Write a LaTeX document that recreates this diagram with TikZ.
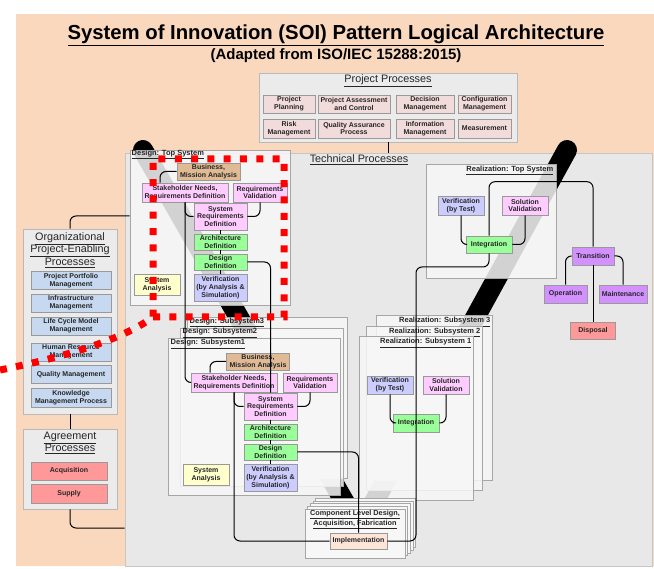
\documentclass[tikz,border=0pt]{standalone}
\usepackage{fontspec}
\setmainfont{Liberation Sans}
\usepackage{tikz}
\usetikzlibrary{positioning}

\definecolor{peach}{RGB}{250,216,190}
\definecolor{grp}{RGB}{235,235,235}
\definecolor{techbg}{RGB}{232,232,232}
\definecolor{layerbg}{RGB}{247,247,247}
\definecolor{ppink}{RGB}{242,220,219}
\definecolor{bmatan}{RGB}{223,186,148}
\definecolor{reqpink}{RGB}{255,204,255}
\definecolor{defgreen}{RGB}{153,255,153}
\definecolor{verblue}{RGB}{204,204,255}
\definecolor{sayellow}{RGB}{255,255,204}
\definecolor{trpurple}{RGB}{210,145,255}
\definecolor{dispred}{RGB}{255,153,153}
\definecolor{orgblue}{RGB}{198,217,241}
\definecolor{implpeach}{RGB}{252,228,214}

\tikzset{
    proc/.style={draw=gray!80, line width=0.6pt, inner sep=0pt, align=center, text=black!85, font=\fontsize{7}{7.8}\selectfont\bfseries},
    sz/.style 2 args={minimum width=#1pt, minimum height=#2pt},
    group/.style={draw=gray!55, line width=0.7pt, fill=grp},
    layer/.style={draw=gray!70, line width=0.6pt, fill=layerbg, fill opacity=0.85},
    boxcap/.style={font=\fontsize{7.5}{8}\selectfont\bfseries, inner sep=0.5pt, text=black!85},
    gtitle/.style={font=\fontsize{10.8}{12.5}\selectfont, align=center, text=black!85, inner sep=0pt},
    conn/.style={black, line width=1pt, rounded corners=6pt},
    vee/.style={black, line width=20pt, line cap=round},
    hilite/.style={red, line width=7pt, dash pattern=on 7pt off 9.3pt}
}

\begin{document}
\begin{tikzpicture}[x=1pt, y=-1pt]
            \useasboundingbox (0,0) rectangle (654,569);
            \fill[peach] (16,14) rectangle (654,566);

            \draw (336,39.5) node[anchor=base, font=\fontsize{20.3}{24}\selectfont\bfseries] (ttl) {\underline{System of Innovation (SOI) Pattern Logical Architecture}};
            \draw (336,60) node[anchor=base, font=\fontsize{15}{18}\selectfont\bfseries] (subttl) {(Adapted from ISO/IEC 15288:2015)};

            \draw (388,107.5) node[group, sz={258}{69}]                     (pp) {};
            \draw (388,83) node[gtitle, anchor=base]                        (ppt) {\underline{Project Processes}};
            \draw (289,104) node[proc, fill=ppink, sz={52}{18}]             (ppl) {Project\\Planning};
            \draw (354,104) node[proc, fill=ppink, sz={72}{18}]             (pac) {Project Assessment\\and Control};
            \draw (425,104) node[proc, fill=ppink, sz={58}{18}]             (dm) {Decision\\Management};
            \draw (484.5,104) node[proc, fill=ppink, sz={53}{18}]           (cm) {Configuration\\Management};
            \draw (289,128.5) node[proc, fill=ppink, sz={52}{19}]           (rm) {Risk\\Management};
            \draw (354,128.5) node[proc, fill=ppink, sz={72}{19}]           (qa) {Quality Assurance\\Process};
            \draw (425,128.5) node[proc, fill=ppink, sz={58}{19}]           (im) {Information\\Management};
            \draw (484.5,128.5) node[proc, fill=ppink, sz={53}{19}]         (ms) {Measurement};

            \draw (70,321.5) node[group, sz={94}{185}]                      (org) {};
            \draw (70,250) node[gtitle]                                     (orgt) {\underline{Organizational}\\\underline{Project-Enabling}\\\underline{Processes}};
            \draw (71,280.5) node[proc, fill=orgblue, sz={80}{18}]          (ppm) {Project Portfolio\\Management};
            \draw (71,303) node[proc, fill=orgblue, sz={80}{18}]            (inf) {Infrastructure\\Management};
            \draw (71,326) node[proc, fill=orgblue, sz={80}{18}]            (lcm) {Life Cycle Model\\Management};
            \draw (71,352) node[proc, fill=orgblue, sz={80}{18}]            (hrm) {Human Resource\\Management};
            \draw (71,374.5) node[proc, fill=orgblue, sz={80}{18}]          (qm) {Quality Management};
            \draw (71,397.5) node[proc, fill=orgblue, sz={80}{19}]          (kmp) {Knowledge\\Management Process};

            \draw (70,469) node[group, sz={94}{80}]                         (agr) {};
            \draw (70,443) node[gtitle]                                     (agrt) {\underline{Agreement}\\\underline{Processes}};
            \draw (69,471) node[proc, fill=dispred, sz={76}{18}]            (acq) {Acquisition};
            \draw (69,493.5) node[proc, fill=dispred, sz={76}{19}]          (sup) {Supply};

            \draw (388.5,359.5) node[draw=gray!45, line width=0.7pt, fill=techbg, sz={527}{413}] (tech) {};
            \draw (359,163) node[gtitle, anchor=base]                       (techt) {\underline{Technical Processes}};

            \draw[vee] (143,150) -- (352,515);
            \draw[vee] (567,150) -- (367,515);

            \draw (210,227.5) node[layer, sz={160}{155}]                    (dTop) {};
            \draw (131,154.5) node[boxcap, anchor=west]                     (dTopt) {\underline{Design: Top System}};
            \draw (491,221) node[layer, sz={130}{114}]                      (rTop) {};
            \draw (554,170.5) node[boxcap, anchor=east]                     (rTopt) {\underline{Realization: Top System}};

            \draw (267,397.5) node[layer, sz={160}{161}]                    (dS3) {};
            \draw (189,322.5) node[boxcap, anchor=west]                     (dS3t) {\underline{Design: Subsystem3}};
            \draw (261.5,407) node[layer, sz={163}{158}]                    (dS2) {};
            \draw (182,333) node[boxcap, anchor=west]                       (dS2t) {\underline{Design: Subsystem2}};
            \draw (254,416.5) node[layer, sz={172}{157}]                    (dS1) {};
            \draw (170,344) node[boxcap, anchor=west]                       (dS1t) {\underline{Design: Subsystem1}};

            \draw (434,397.5) node[layer, sz={116}{165}]                    (rS3) {};
            \draw (491,322) node[boxcap, anchor=east]                       (rS3t) {\underline{Realization: Subsystem 3}};
            \draw (424,408) node[layer, sz={116}{164}]                      (rS2) {};
            \draw (481,332.5) node[boxcap, anchor=east]                     (rS2t) {\underline{Realization: Subsystem 2}};
            \draw (416,418) node[layer, sz={114}{164}]                      (rS1) {};
            \draw (472,343) node[boxcap, anchor=east]                       (rS1t) {\underline{Realization: Subsystem 1}};

            \foreach \k in {4,3,2,1}
                \draw ({355+2.6*\k},{533.5-2.6*\k}) node[draw=gray!70, line width=0.6pt, fill=layerbg, sz={100}{49}] (comp\k) {};
            \draw (355,533.5) node[draw=gray!70, line width=0.6pt, fill=layerbg, sz={100}{49}] (comp0) {};
            \draw (355,519.5) node[proc, draw=none, fill=none, font=\fontsize{7.3}{8.6}\selectfont\bfseries] (compt) {\underline{Component Level Design,}\\\underline{Acquisition, Fabrication}};

            \draw (208.5,171.5) node[proc, fill=bmatan, sz={63}{17}]        (bmaT) {Business,\\Mission Analysis};
            \draw (185,192.5) node[proc, fill=reqpink, sz={86}{19}]         (sndT) {Stakeholder Needs,\\Requirements Definition};
            \draw (260,192.5) node[proc, fill=reqpink, sz={54}{19}]         (rvT) {Requirements\\Validation};
            \draw (220.5,216.5) node[proc, fill=reqpink, sz={53}{27}]       (srdT) {System\\Requirements\\Definition};
            \draw (220.5,242) node[proc, fill=defgreen, sz={53}{16}]        (adT) {Architecture\\Definition};
            \draw (220.5,262) node[proc, fill=defgreen, sz={53}{16}]        (ddT) {Design\\Definition};
            \draw (220.5,287.5) node[proc, fill=verblue, sz={53}{27}]       (verT) {Verification\\(by Analysis \&\\Simulation)};
            \draw (157,284.5) node[proc, fill=sayellow, sz={46}{21}]        (saT) {System\\Analysis};

            \draw (258,361.5) node[proc, fill=bmatan, sz={63}{17}]          (bma1) {Business,\\Mission Analysis};
            \draw (234,382.5) node[proc, fill=reqpink, sz={86}{19}]         (snd1) {Stakeholder Needs,\\Requirements Definition};
            \draw (310,382.5) node[proc, fill=reqpink, sz={54}{19}]         (rv1) {Requirements\\Validation};
            \draw (270.5,406.5) node[proc, fill=reqpink, sz={53}{27}]       (srd1) {System\\Requirements\\Definition};
            \draw (270.5,432) node[proc, fill=defgreen, sz={53}{16}]        (ad1) {Architecture\\Definition};
            \draw (270.5,452) node[proc, fill=defgreen, sz={53}{16}]        (dd1) {Design\\Definition};
            \draw (270.5,477.5) node[proc, fill=verblue, sz={53}{27}]       (ver1) {Verification\\(by Analysis \&\\Simulation)};
            \draw (206,474.5) node[proc, fill=sayellow, sz={46}{21}]        (sa1) {System\\Analysis};

            \draw (461,205.5) node[proc, fill=verblue, sz={46}{19}]         (vtT) {Verification\\(by Test)};
            \draw (525,205.5) node[proc, fill=reqpink, sz={46}{19}]         (svT) {Solution\\Validation};
            \draw (489,244.5) node[proc, fill=defgreen, sz={46}{17}]        (intT) {Integration};

            \draw (390,385) node[proc, fill=verblue, sz={46}{18}]           (vt1) {Verification\\(by Test)};
            \draw (446,385) node[proc, fill=reqpink, sz={46}{18}]           (sv1) {Solution\\Validation};
            \draw (416,423) node[proc, fill=defgreen, sz={46}{18}]          (int1) {Integration};

            \draw (593,256) node[proc, fill=trpurple, sz={42}{18}]          (tr) {Transition};
            \draw (565.5,294) node[proc, fill=trpurple, sz={43}{18}]        (op) {Operation};
            \draw (623,294) node[proc, fill=trpurple, sz={48}{18}]          (mt) {Maintenance};
            \draw (593,330.5) node[proc, fill=dispred, sz={45}{17}]         (dis) {Disposal};

            \draw (358.5,541) node[proc, fill=implpeach, sz={57}{16}]       (impl) {Implementation};

            \draw[conn] (pp.south) -- (pp.south |- tech.north);
            \draw[conn] (org.north) |- (dTop.west |- 0,216);
            \draw[conn] (org.south) -- (agr.north);
            \draw[conn] (agr.south) |- (tech.west |- 0,528);

            \draw[conn] (bmaT.west) -| ([xshift=-25pt]sndT.north);
            \draw[conn] (rvT.south) |- (srdT.east);
            \draw[conn] (sndT.south) |- (srdT.west);
            \draw[conn] (sndT.south) |- (snd1.west);
            \draw[conn] (srdT) -- (adT);
            \draw[conn] (adT) -- (ddT);
            \draw[conn] (ddT) -- (verT);
            \draw[conn] (ddT.east) -| (srd1.north);

            \draw[conn] (bma1.west) -| ([xshift=-24pt]snd1.north);
            \draw[conn] (rv1.south) |- (srd1.east);
            \draw[conn] (snd1.south) |- (srd1.west);
            \draw[conn] (snd1.south) |- (impl.west);
            \draw[conn] (srd1) -- (ad1);
            \draw[conn] (ad1) -- (dd1);
            \draw[conn] (dd1) -- (ver1);
            \draw[conn] (dd1.east) -| (impl.north);

            \draw[conn] (vtT.south) |- (intT.west);
            \draw[conn] (svT.south) |- (intT.east);
            \draw[conn] (vt1.south) |- (int1.west);
            \draw[conn] (sv1.south) |- (int1.east);
            \draw[conn] (impl.east) -| (416,267) -| (intT.south);
            \draw[conn] (intT.north) -- ++(0,-54) -| (tr.north);
            \draw[conn] (tr.west) -| (op.north);
            \draw[conn] (tr.east) -| (mt.north);
            \draw[conn] (tr.south) -- (dis.north);

            \draw[hilite] (0,370) .. controls (70,356) and (125,338) .. (153,317) -- (284,317) -- (284,159) -- (153,159) -- (153,317);
\end{tikzpicture}
\end{document}
